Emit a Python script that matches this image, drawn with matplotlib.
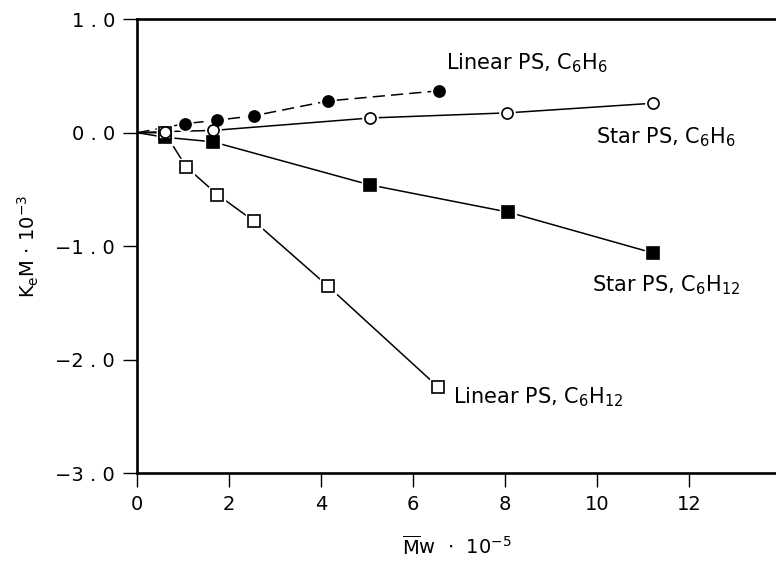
import matplotlib
matplotlib.use("Agg")
import matplotlib.pyplot as plt

# values (x = Mw * 1e-5, y = KeM * 1e-3)
lin_c6h6_x = [1.04, 1.73, 2.54, 4.15, 6.57]
lin_c6h6_y = [0.08, 0.11, 0.15, 0.28, 0.37]

star_c6h6_x = [0.60, 1.64, 5.07, 8.05, 11.22]
star_c6h6_y = [0.01, 0.02, 0.13, 0.175, 0.26]

star_c6h12_x = [0.60, 1.64, 5.06, 8.07, 11.22]
star_c6h12_y = [-0.04, -0.08, -0.46, -0.70, -1.06]

lin_c6h12_x = [0.60, 1.06, 1.74, 2.54, 4.14, 6.54]
lin_c6h12_y = [0.00, -0.30, -0.545, -0.78, -1.35, -2.24]

origin = (0.0, 0.0)

y_ticks = [1.0, 0.0, -1.0, -2.0, -3.0]
y_tick_labels = ["1 . 0", "0 . 0", "\u22121 . 0", "\u22122 . 0", "\u22123 . 0"]
x_ticks = [0, 2, 4, 6, 8, 10, 12]

labels = [
    ("Linear PS, C$_6$H$_6$", 6.72, 0.61),
    ("Star PS, C$_6$H$_6$", 9.97, -0.04),
    ("Star PS, C$_6$H$_{12}$", 9.88, -1.34),
    ("Linear PS, C$_6$H$_{12}$", 6.86, -2.33),
]

plt.rcParams["mathtext.fontset"] = "dejavusans"

fig = plt.figure(figsize=(7.76, 5.66), dpi=100)
ax = fig.add_axes([0.177, 0.164, 0.823, 0.802])


def draw(xs, ys, marker, face, ls):
    ax.plot([origin[0]] + xs, [origin[1]] + ys, color="black", lw=1.1, ls=ls, zorder=2)
    # white halo so the line stops short of each marker
    ax.plot(xs, ys, ls="none", marker=marker, ms=11, mfc="white", mec="white", zorder=3)
    ax.plot(xs, ys, ls="none", marker=marker, ms=8, mfc=face, mec="black", mew=1.2, zorder=4)


draw(star_c6h12_x, star_c6h12_y, "s", "black", "-")
draw(lin_c6h12_x, lin_c6h12_y, "s", "white", "-")
draw(star_c6h6_x, star_c6h6_y, "o", "white", "-")
draw(lin_c6h6_x, lin_c6h6_y, "o", "black", (0, (8, 4)))

for text, x, y in labels:
    ax.text(x, y, text, fontsize=15, va="center", ha="left", family="DejaVu Sans")

ax.set_xlim(0, 13.89)
ax.set_ylim(-3.0, 1.0)
ax.set_yticks(y_ticks)
ax.set_yticklabels(y_tick_labels)
ax.set_xticks(x_ticks)

ax.spines["right"].set_visible(False)
for side in ("left", "bottom", "top"):
    ax.spines[side].set_linewidth(1.9)
ax.tick_params(direction="out", length=10, width=1.0, pad=6)
ax.tick_params(axis="y", labelsize=14)
ax.tick_params(axis="x", labelsize=14)

ax.set_xlabel(r"$\overline{\mathrm{M}}$w  $\cdot$  10$^{-5}$", fontsize=14, labelpad=15)
ax.set_ylabel(r"K$_\mathrm{e}$M $\cdot$ 10$^{-3}$", fontsize=14, labelpad=10)

fig.savefig("out.png", dpi=100)
